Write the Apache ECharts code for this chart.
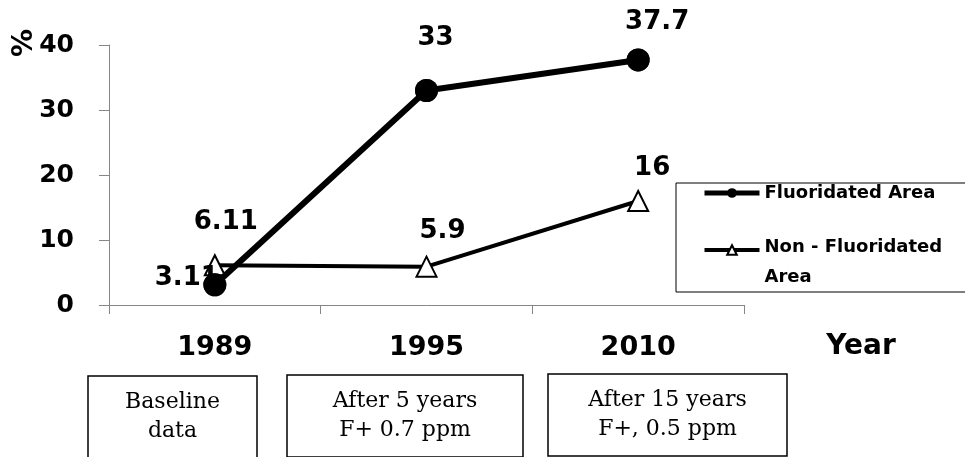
<!DOCTYPE html>
<html>
<head>
<meta charset="utf-8">
<script src="https://cdn.jsdelivr.net/npm/echarts@6/dist/echarts.min.js"></script>
<style>
html,body{margin:0;padding:0;background:#fff;}
#chart{width:965px;height:457px;}
</style>
</head>
<body>
<div id="chart"></div>
<script>
const years = ['1989', '1995', '2010'];
const fluoridated = [3.11, 33, 37.7];
const nonFluoridated = [6.11, 5.9, 16];
const seriesNames = ['Fluoridated Area', 'Non - Fluoridated Area'];
const boxNotes = ['Baseline\ndata', 'After 5 years\nF+ 0.7 ppm', 'After 15 years\nF+, 0.5 ppm'];
const yTicks = { min: 0, max: 40, interval: 10 };

const SANS = '"DejaVu Sans", Verdana, sans-serif';
const SERIF = '"DejaVu Serif", serif';
const AXIS_GREY = '#868686';

// label placement (style only)
const fLabelOffsets = [[-28, -7], [9, -52], [19, -38]];
const nLabelOffsets = [[11, -43], [16, -35], [14, -33]];

function withLabels(values, offsets) {
  return values.map((v, i) => ({
    value: v,
    label: { offset: offsets[i] }
  }));
}

const labelStyle = {
  show: true,
  position: 'inside',
  color: '#000',
  fontFamily: SANS,
  fontWeight: 'bold',
  fontSize: 26,
  formatter: p => String(p.value)
};

// annotation boxes under the axis (layout only)
const boxRects = [
  { x: 88, y: 376, w: 169, h: 82 },
  { x: 287, y: 375, w: 236, h: 82 },
  { x: 548, y: 374, w: 239, h: 82 }
];

const graphics = [];
boxNotes.forEach((t, i) => {
  const b = boxRects[i];
  graphics.push({
    type: 'rect',
    shape: { x: b.x, y: b.y, width: b.w, height: b.h },
    style: { fill: '#fff', stroke: '#000', lineWidth: 1.5 },
    z: 1
  });
  graphics.push({
    type: 'text',
    x: b.x + b.w / 2,
    y: b.y + 41,
    style: {
      text: t,
      fill: '#000',
      font: '22px ' + SERIF,
      align: 'center',
      verticalAlign: 'middle',
      lineHeight: 29
    },
    z: 2
  });
});
// legend frame
graphics.push({
  type: 'rect',
  shape: { x: 676, y: 183, width: 300, height: 109 },
  style: { fill: '#fff', stroke: '#000', lineWidth: 1 },
  z: 0
});
// axis titles
graphics.push({
  type: 'text',
  x: 25, y: 43,
  rotation: Math.PI / 2,
  style: { text: '%', fill: '#000', font: 'bold 28px ' + SANS, align: 'center', verticalAlign: 'middle' }
});
graphics.push({
  type: 'text',
  x: 861, y: 347,
  style: { text: 'Year', fill: '#000', font: 'bold 28px ' + SANS, align: 'center', verticalAlign: 'middle' }
});

const chart = echarts.init(document.getElementById('chart'), null, { renderer: 'canvas' });
chart.setOption({
  animation: false,
  backgroundColor: '#fff',
  grid: { left: 109, right: 221, top: 45, bottom: 152, containLabel: false },
  xAxis: {
    type: 'category',
    data: years,
    boundaryGap: true,
    axisLine: { lineStyle: { color: AXIS_GREY, width: 1 } },
    axisTick: { show: true, length: 9, lineStyle: { color: AXIS_GREY } },
    axisLabel: { color: '#000', fontFamily: SANS, fontWeight: 'bold', fontSize: 27, margin: 29 },
    splitLine: { show: false }
  },
  yAxis: {
    type: 'value',
    min: yTicks.min, max: yTicks.max, interval: yTicks.interval,
    axisLine: { show: true, lineStyle: { color: AXIS_GREY, width: 1 } },
    axisTick: { show: true, length: 10, lineStyle: { color: AXIS_GREY } },
    axisLabel: { color: '#000', fontFamily: SANS, fontWeight: 'bold', fontSize: 25, margin: 35 },
    splitLine: { show: false }
  },
  legend: {
    orient: 'vertical',
    left: 702,
    top: 178,
    padding: 0,
    itemGap: 0,
    itemWidth: 55,
    itemHeight: 12,
    textStyle: {
      color: '#000', fontFamily: SANS, fontWeight: 'bold', fontSize: 18, lineHeight: 30,
      rich: {
        pad: { fontSize: 10, lineHeight: 24 },
        t: { color: '#000', fontFamily: SANS, fontWeight: 'bold', fontSize: 18, lineHeight: 30 }
      }
    },
    formatter: n => n.startsWith('Non')
      ? '{pad| }\n{t|' + n.replace(' Area', '}\n{t|Area}')
      : n,
    data: [
      { name: seriesNames[0], lineStyle: { width: 5, color: '#000' } },
      { name: seriesNames[1], lineStyle: { width: 4, color: '#000' } }
    ]
  },
  graphic: graphics,
  series: [
    {
      name: seriesNames[1],
      type: 'line',
      z: 2,
      data: withLabels(nonFluoridated, nLabelOffsets),
      symbol: 'triangle',
      symbolSize: 20,
      lineStyle: { color: '#000', width: 4 },
      itemStyle: { color: '#fff', borderColor: '#000', borderWidth: 2 },
      label: labelStyle
    },
    {
      name: seriesNames[0],
      type: 'line',
      z: 3,
      data: withLabels(fluoridated, fLabelOffsets),
      symbol: 'circle',
      symbolSize: 23,
      lineStyle: { color: '#000', width: 6 },
      itemStyle: { color: '#000' },
      label: labelStyle
    },
    {
      name: 'markerCover',
      type: 'scatter',
      z: 4,
      silent: true,
      data: fluoridated,
      symbol: 'circle',
      symbolSize: 23,
      itemStyle: { color: '#000' }
    }
  ]
});
</script>
</body>
</html>
